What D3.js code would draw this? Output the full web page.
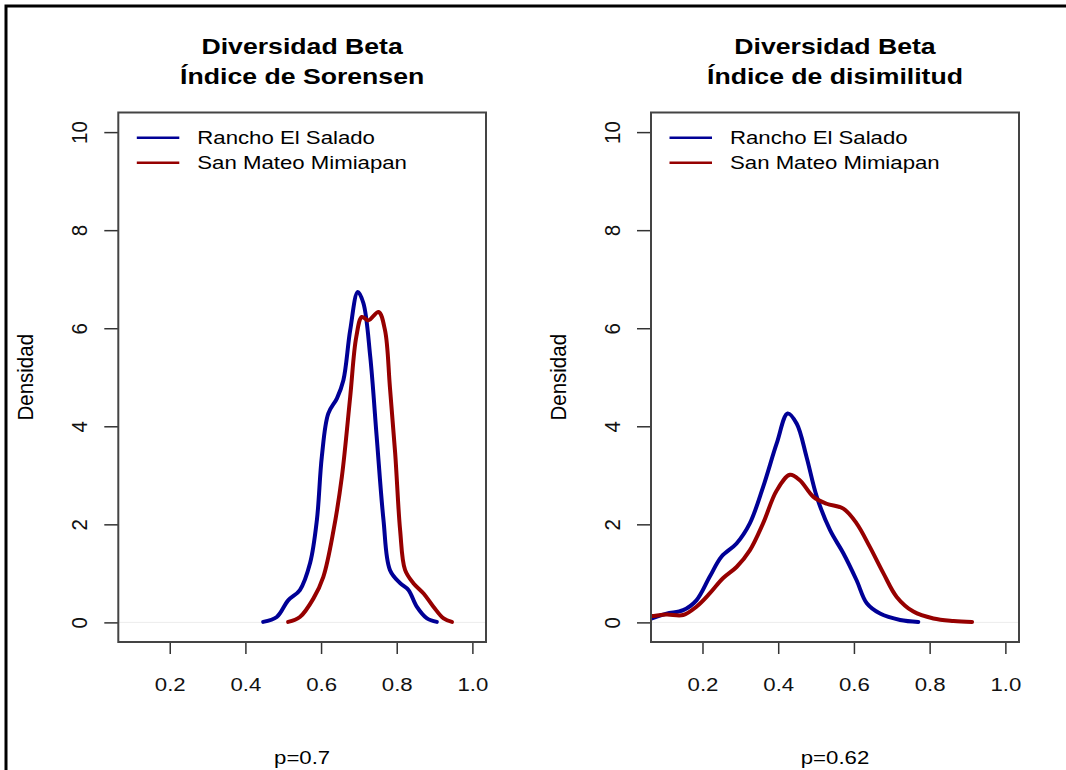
<!DOCTYPE html>
<html lang="es">
<head>
  <meta charset="UTF-8">
  <title>Diversidad Beta</title>
  <style>
    body {
      margin: 0;
      padding: 0;
      background: #fff;
    }
    svg {
      font-family: 'Liberation Sans', Arial, sans-serif;
    }
  </style>
</head>
<body>

<script src="https://d3js.org/d3.v7.min.js"></script>

<script>
  // Sorensen panel - density curves (x = index, y = density)
  const sorRanchoX = [0.447, 0.483, 0.513, 0.544, 0.571, 0.589, 0.602, 0.619, 0.642, 0.659, 0.677, 0.697, 0.712, 0.730, 0.747, 0.765, 0.782, 0.809, 0.831, 0.853, 0.880, 0.906];
  const sorRanchoY = [0.01, 0.11, 0.45, 0.66, 1.21, 2.09, 3.38, 4.26, 4.57, 4.94, 5.96, 6.74, 6.51, 5.42, 3.79, 2.09, 1.07, 0.80, 0.66, 0.32, 0.08, 0.01];
  const sorMateoX = [0.513, 0.544, 0.580, 0.606, 0.633, 0.655, 0.677, 0.693, 0.708, 0.725, 0.752, 0.769, 0.782, 0.796, 0.809, 0.822, 0.844, 0.871, 0.897, 0.924, 0.946];
  const sorMateoY = [0.01, 0.11, 0.49, 0.93, 1.88, 2.97, 4.60, 5.82, 6.23, 6.16, 6.33, 5.96, 4.80, 3.44, 1.88, 1.07, 0.80, 0.59, 0.32, 0.08, 0.01];

  // Disimilitud panel
  const disRanchoX = [0.040, 0.065, 0.105, 0.149, 0.184, 0.219, 0.250, 0.290, 0.325, 0.360, 0.396, 0.425, 0.449, 0.475, 0.502, 0.537, 0.572, 0.607, 0.634, 0.669, 0.722, 0.770];
  const disRanchoY = [0.04, 0.08, 0.18, 0.25, 0.45, 0.93, 1.34, 1.61, 2.02, 2.76, 3.65, 4.26, 4.05, 3.37, 2.56, 1.88, 1.41, 0.86, 0.39, 0.18, 0.05, 0.01];
  const disMateoX = [0.040, 0.065, 0.105, 0.149, 0.184, 0.219, 0.254, 0.290, 0.325, 0.360, 0.396, 0.431, 0.457, 0.493, 0.528, 0.572, 0.607, 0.642, 0.678, 0.713, 0.757, 0.810, 0.863, 0.912];
  const disMateoY = [0.12, 0.13, 0.16, 0.15, 0.32, 0.59, 0.90, 1.13, 1.47, 2.02, 2.69, 3.01, 2.90, 2.56, 2.42, 2.32, 2.02, 1.54, 1.00, 0.52, 0.22, 0.08, 0.03, 0.01];

  const seriesNames = ['Rancho El Salado', 'San Mateo Mimiapan'];
  const seriesColors = ['#000096', '#960000'];
  const xTicks = [0.2, 0.4, 0.6, 0.8, 1.0];
  const yTicks = [0, 2, 4, 6, 8, 10];
  const titles = [['Diversidad Beta', 'Índice de Sorensen'], ['Diversidad Beta', 'Índice de disimilitud']];
  const pLabels = ['p=0.7', 'p=0.62'];

  const W = 1066, H = 770;
  const SX = 1.2;       // text is a little stretched sideways in the original
  const FS = 18.5;
  const FS_ROT = 20.5;  // rotated labels come out larger
  const SX_ROT = 1.08;

  const svg = d3.select('body').append('svg')
    .attr('width', W)
    .attr('height', H);

  // outer frame (only top and left edges show)
  svg.append('path')
    .attr('d', `M6,${H} L6,6 L${W},6`)
    .attr('fill', 'none')
    .attr('stroke', '#000')
    .attr('stroke-width', 3);

  const fmt = d3.format('.1f');

  function drawPanel(idx, left, right, series) {
    const top = 112.5, bottom = 642;
    const x = d3.scaleLinear().domain([0.064, 1.036]).range([left, right]);
    const y = d3.scaleLinear().domain([-0.4, 10.4]).range([bottom, top]);
    const cx = (left + right) / 2;

    const g = svg.append('g');

    // clip so curves stop at the box
    const clipId = 'clip' + idx;
    svg.append('clipPath').attr('id', clipId)
      .append('rect')
      .attr('x', left).attr('y', top)
      .attr('width', right - left).attr('height', bottom - top);

    // titles
    titles[idx].forEach((t, i) => {
      g.append('text')
        .attr('transform', `translate(${cx},${54 + i * 30}) scale(${SX},1)`)
        .attr('text-anchor', 'middle')
        .attr('font-weight', 'bold')
        .attr('font-size', 22.2)
        .text(t);
    });

    // zero reference line
    g.append('line')
      .attr('x1', left).attr('x2', right)
      .attr('y1', y(0)).attr('y2', y(0))
      .attr('stroke', '#ececec')
      .attr('stroke-width', 1);

    // curves
    const line = d3.line()
      .x(d => x(d[0]))
      .y(d => y(d[1]))
      .curve(d3.curveCatmullRom.alpha(0.5));

    series.forEach((s, i) => {
      g.append('path')
        .datum(s.x.map((v, k) => [v, s.y[k]]))
        .attr('clip-path', `url(#${clipId})`)
        .attr('fill', 'none')
        .attr('stroke', seriesColors[i])
        .attr('stroke-width', 4)
        .attr('stroke-linejoin', 'round')
        .attr('stroke-linecap', 'round')
        .attr('d', line);
    });

    // x axis
    const xAxis = g.append('g')
      .attr('transform', `translate(0,${bottom})`)
      .call(d3.axisBottom(x).tickValues(xTicks).tickSize(12).tickFormat(fmt));
    xAxis.select('.domain').remove();
    xAxis.selectAll('line').attr('stroke', '#333').attr('stroke-width', 1.5);
    xAxis.selectAll('text')
      .attr('y', null).attr('dy', null)
      .attr('transform', `translate(0,49) scale(${SX},1)`)
      .attr('fill', '#111')
      .attr('font-size', FS)
      .attr('font-family', null);

    // y axis
    const yAxis = g.append('g')
      .attr('transform', `translate(${left},0)`)
      .call(d3.axisLeft(y).tickValues(yTicks).tickSize(14));
    yAxis.select('.domain').remove();
    yAxis.selectAll('line').attr('stroke', '#333').attr('stroke-width', 1.5);
    yAxis.selectAll('text')
      .attr('x', null).attr('dy', null)
      .attr('text-anchor', 'middle')
      .attr('transform', `translate(-31,0) scale(${SX_ROT},1) rotate(-90)`)
      .attr('fill', '#111')
      .attr('font-size', FS_ROT)
      .attr('font-family', null);

    // y label
    g.append('text')
      .attr('transform', `translate(${left - 85},${(top + bottom) / 2}) scale(${SX_ROT},1) rotate(-90)`)
      .attr('text-anchor', 'middle')
      .attr('font-size', FS_ROT)
      .text('Densidad');

    // box
    g.append('rect')
      .attr('x', left).attr('y', top)
      .attr('width', right - left).attr('height', bottom - top)
      .attr('fill', 'none')
      .attr('stroke', '#444')
      .attr('stroke-width', 2);

    // legend
    seriesNames.forEach((name, i) => {
      const ly = 137.7 + i * 25;
      g.append('line')
        .attr('x1', left + 18.5).attr('x2', left + 61)
        .attr('y1', ly).attr('y2', ly)
        .attr('stroke', seriesColors[i])
        .attr('stroke-width', 2.6);
      g.append('text')
        .attr('transform', `translate(${left + 79},${ly + 6.5}) scale(${SX},1)`)
        .attr('font-size', FS)
        .text(name);
    });

    // p value under the panel
    g.append('text')
      .attr('transform', `translate(${cx},764) scale(${SX},1)`)
      .attr('text-anchor', 'middle')
      .attr('font-size', FS)
      .text(pLabels[idx]);
  }

  drawPanel(0, 118.3, 486, [
    { x: sorRanchoX, y: sorRanchoY },
    { x: sorMateoX, y: sorMateoY }
  ]);
  drawPanel(1, 651, 1019, [
    { x: disRanchoX, y: disRanchoY },
    { x: disMateoX, y: disMateoY }
  ]);
</script>

</body>
</html>
